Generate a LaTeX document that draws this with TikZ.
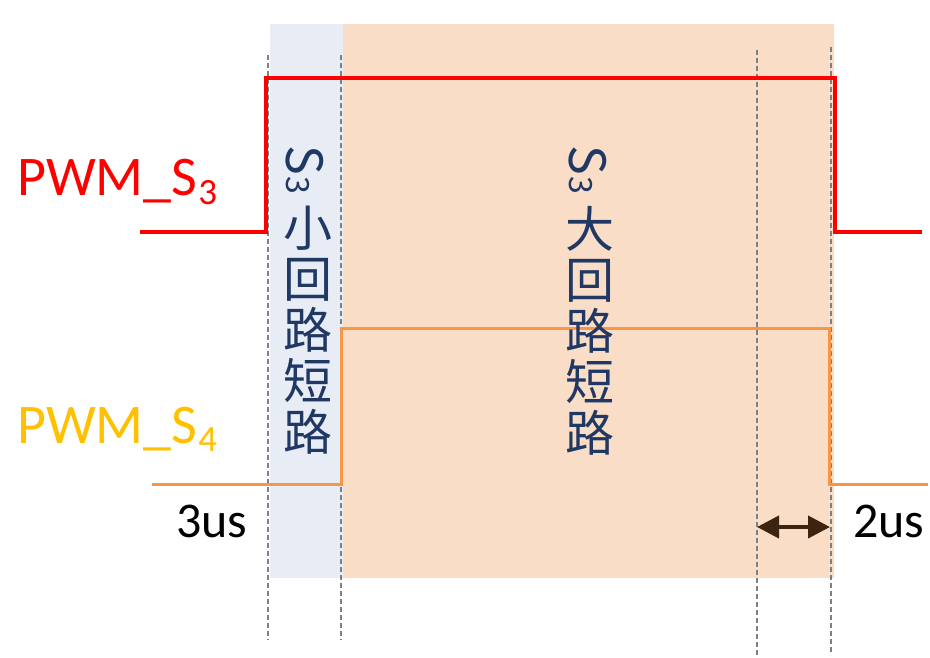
\documentclass[tikz,border=0pt]{standalone}
\usepackage{fontspec}
\setmainfont{Carlito}
\newfontfamily\cjk{Noto Sans CJK SC}
\usetikzlibrary{arrows.meta}
\definecolor{bandblue}{HTML}{E7ECF5}
\definecolor{bandorange}{HTML}{FADDC6}
\definecolor{sigred}{HTML}{FF0000}
\definecolor{sigorange}{HTML}{F79646}
\definecolor{lblyellow}{HTML}{FFC000}
\definecolor{navy}{HTML}{203864}
\definecolor{guide}{HTML}{7F7F7F}
\definecolor{arrowbrown}{HTML}{3C2410}
\tikzset{
  guideline/.style={draw=guide, line width=1.1pt, dash pattern=on 5pt off 3pt},
  redwave/.style={draw=sigred, line width=3.5pt, line join=miter},
  orangewave/.style={draw=sigorange, line width=3pt, line join=miter},
  siglabel/.style={inner sep=0pt, anchor=base west, font=\fontsize{56}{60}\selectfont},
  timelabel/.style={inner sep=0pt, anchor=base west, font=\fontsize{50}{54}\selectfont},
  vlatin/.style={inner sep=0pt, anchor=base west, rotate=-90, text=navy, font=\cjk\fontsize{50}{50}\selectfont},
  vcjk/.style={inner sep=0pt, align=center, text=navy, font=\cjk\fontsize{49}{51}\selectfont},
}
\begin{document}
\begin{tikzpicture}[x=1pt, y=-1pt]
\useasboundingbox (0,0) rectangle (930,658);
% bands
\fill[bandblue] (270,24) rectangle (343,578);
\fill[bandorange] (343,24) rectangle (834,578);
% guide lines
\draw[guideline] (268,55) -- (268,640);
\draw[guideline] (341,55) -- (341,640);
\draw[guideline] (757,50) -- (757,655);
\draw[guideline] (831,47) -- (831,655);
% waveforms
\draw[redwave] (140,232) -- (266,232) -- (266,78) -- (835,78) -- (835,232) -- (922,232);
\draw[orangewave] (152,484) -- (341,484) -- (341,328) -- (829,328) -- (829,484) -- (928,484);
% signal labels
\node[siglabel, text=sigred] (s3lbl) at (17,196) {PWM\_S\kern1pt\raisebox{-9pt}{\fontsize{37}{37}\selectfont 3}};
\node[siglabel, text=lblyellow] (s4lbl) at (17,443) {PWM\_S\kern1pt\raisebox{-8pt}{\fontsize{37}{37}\selectfont 4}};
% time labels
\node[timelabel] (t3) at (176,537) {3us};
\node[timelabel] (t2) at (853,537) {2us};
% 2us arrow
\coordinate (arrL) at (757,527);
\coordinate (arrR) at (830,527);
\draw[draw=arrowbrown, line width=4pt, {Triangle[length=22pt,width=22pt]}-{Triangle[length=22pt,width=22pt]}] (arrL) -- (arrR);
% vertical texts
\node[vlatin] (smallS) at (286,145) {S\kern2pt{\fontsize{32}{32}\selectfont 3}};
\node[vcjk] (smallT) at (308,330.5) {小\\回\\路\\短\\路};
\node[vlatin] (bigS) at (569,145) {S\kern2pt{\fontsize{32}{32}\selectfont 3}};
\node[vcjk] (bigT) at (590,330.5) {大\\回\\路\\短\\路};
\end{tikzpicture}
\end{document}
